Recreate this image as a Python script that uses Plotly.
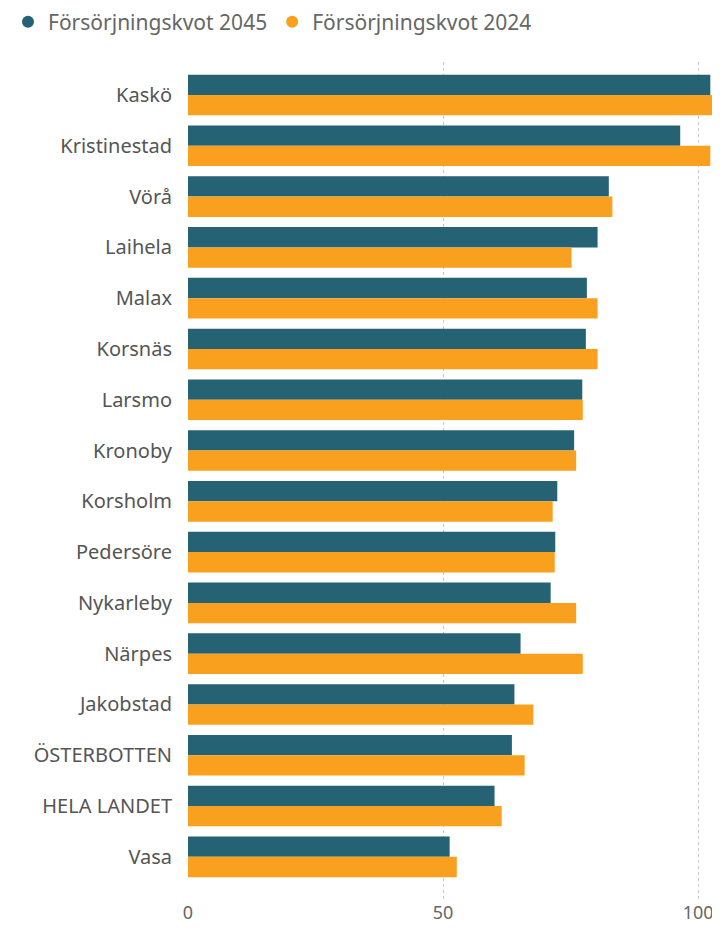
import plotly.graph_objects as go

categories = ["Kaskö", "Kristinestad", "Vörå", "Laihela", "Malax", "Korsnäs", "Larsmo",
              "Kronoby", "Korsholm", "Pedersöre", "Nykarleby", "Närpes", "Jakobstad",
              "ÖSTERBOTTEN", "HELA LANDET", "Vasa"]
kvot_2045 = [102.4, 96.5, 82.5, 80.3, 78.2, 78.0, 77.3, 75.7, 72.4, 72.0, 71.1, 65.2, 64.0, 63.5, 60.1, 51.3]
kvot_2024 = [105.5, 102.4, 83.2, 75.2, 80.3, 80.3, 77.4, 76.1, 71.5, 71.9, 76.1, 77.4, 67.7, 66.0, 61.5, 52.7]
series_names = ["Försörjningskvot 2045", "Försörjningskvot 2024"]
x_ticks = [0, 50, 100]

c2045 = "#246274"
c2024 = "#F9A11E"

fig = go.Figure()
fig.add_trace(go.Bar(y=categories, x=kvot_2045, orientation="h", name=series_names[0],
                     marker=dict(color=c2045, line=dict(width=0)), showlegend=False))
fig.add_trace(go.Bar(y=categories, x=kvot_2024, orientation="h", name=series_names[1],
                     marker=dict(color=c2024, line=dict(width=0)), showlegend=False))
# legend-only circle markers
for nm, col in zip(series_names, [c2045, c2024]):
    fig.add_trace(go.Scatter(x=[None], y=[None], mode="markers", name=nm,
                             marker=dict(color=col, size=13, symbol="circle"), showlegend=True))

fig.update_layout(
    width=712, height=920,
    margin=dict(l=180, r=0, t=54, b=28, autoexpand=False),
    paper_bgcolor="white", plot_bgcolor="white",
    barmode="group", bargap=0.2, bargroupgap=0,
    font=dict(family="Noto Sans", color="#666666"),
    legend=dict(orientation="h", x=0.0, y=1 - 14 / 920, xref="container", yref="container",
                xanchor="left", yanchor="middle", font=dict(size=21, color="#666666"),
                itemsizing="constant", itemwidth=30, tracegroupgap=0),
    xaxis=dict(range=[0, 104.3], tickvals=x_ticks, showgrid=True, gridcolor="#C8C8C8",
               griddash="dot", gridwidth=1, zeroline=False, showline=False, automargin=False,
               tickfont=dict(size=18, color="#666666"), fixedrange=True),
    yaxis=dict(categoryorder="array", categoryarray=categories, range=[15.85, -0.65],
               showgrid=False, zeroline=False, showline=False, ticks="outside", ticklen=11,
               automargin=False,
               tickcolor="rgba(0,0,0,0)", tickfont=dict(size=20, color="#555555")),
)

fig.write_html("out.html")
